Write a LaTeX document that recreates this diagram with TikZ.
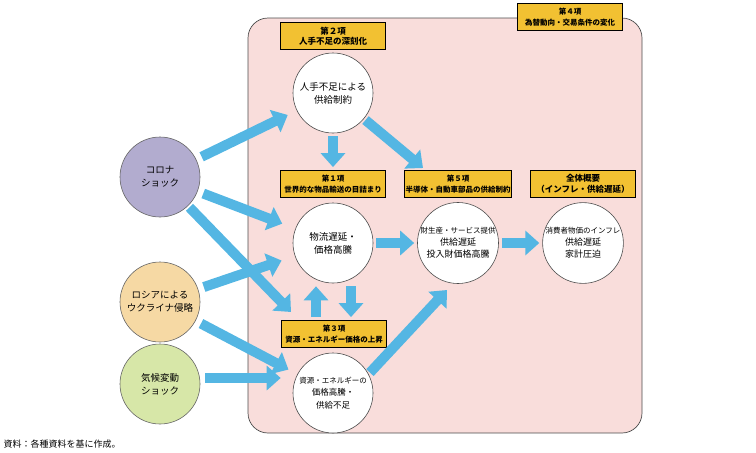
\documentclass[tikz,border=0pt]{standalone}
\usepackage{fontspec}
\setmainfont{Noto Sans CJK JP}
\usetikzlibrary{arrows.meta}

\definecolor{bgpink}{RGB}{249,221,219}
\definecolor{boxyellow}{RGB}{242,193,50}
\definecolor{arrowblue}{RGB}{84,182,227}
\definecolor{covid}{RGB}{178,172,207}
\definecolor{russia}{RGB}{246,217,164}
\definecolor{climate}{RGB}{215,231,168}

\newcommand{\widerow}[1]{{\fontsize{7.5}{12}\selectfont #1}}

\begin{document}
\begin{tikzpicture}[x=1pt,y=-1pt]
\tikzset{circ/.style={circle, draw=black!70, fill=white, line width=0.6pt, minimum size=80pt, inner sep=0pt, align=center, font=\fontsize{9.5}{13}\selectfont}}
\tikzset{cause/.style={circ, draw=black!60}}
\tikzset{label/.style={draw=black, fill=boxyellow, line width=0.8pt, minimum width=105pt, minimum height=27pt, inner sep=1pt, align=center, font=\bfseries\fontsize{8.5}{10.5}\selectfont}}
\tikzset{longlabel/.style={label, font=\bfseries\fontsize{7.5}{10.5}\selectfont}}
\tikzset{flow/.style={draw=arrowblue, line width=10pt, -{Triangle[length=14pt,width=24pt]}}}
\useasboundingbox (0,0) rectangle (756,453);
\draw[fill=bgpink, draw=black!70, line width=0.7pt, rounded corners=20pt] (248,18) rectangle (642,433);

\node[label] (sec2) at (333,36) {第２項\\人手不足の深刻化};
\node[longlabel] (sec4) at (570,17) {第４項\\為替動向・交易条件の変化};
\node[longlabel] (sec1) at (333,184) {第１項\\世界的な物品輸送の目詰まり};
\node[longlabel] (sec5) at (458,184) {第５項\\半導体・自動車部品の供給制約};
\node[label] (total) at (583,184) {全体概要\\（インフレ・供給遅延）};
\node[longlabel] (sec3) at (334,334) {第３項\\資源・エネルギー価格の上昇};

\node[circ] (hitode) at (333,93) {人手不足による\\供給制約};
\node[circ] (butsuryu) at (333,243) {物流遅延・\\価格高騰};
\node[circ, font=\fontsize{9}{12}\selectfont] (zaisei) at (458,243) {\widerow{財生産・サービス提供}\\供給遅延\\投入財価格高騰};
\node[circ, font=\fontsize{9}{12}\selectfont] (shohi) at (583,243) {\widerow{消費者物価のインフレ}\\供給遅延\\家計圧迫};
\node[circ, font=\fontsize{8.5}{12.5}\selectfont] (shigen) at (333,393) {\widerow{資源・エネルギーの}\\価格高騰・\\供給不足};

\node[cause, fill=covid] (corona) at (160,177) {コロナ\\ショック};
\node[cause, fill=russia] (russia) at (160,302) {ロシアによる\\ウクライナ侵略};
\node[cause, fill=climate] (climate) at (160,384) {気候変動\\ショック};

\coordinate (hit3) at (291,312);
\coordinate (hit5) at (423,168);
\coordinate (hitz) at (447,290);

% causes
\draw[flow, shorten <=6pt, shorten >=10pt] (corona) -- (hitode);
\draw[flow, shorten <=6pt, shorten >=14pt] (corona) -- (butsuryu);
\draw[flow, shorten <=2pt] (corona) -- (hit3);
\draw[flow, shorten <=6pt, shorten >=14pt] (russia) -- (butsuryu);
\draw[flow, shorten <=6pt, shorten >=10pt] (russia) -- (shigen);
\draw[flow, shorten <=5pt, shorten >=12pt] ([yshift=6pt]climate.east) -- ([yshift=6pt]climate.east -| shigen.west);

% between sections
\draw[flow, shorten <=3pt, shorten >=3pt] (hitode) -- (sec1);
\draw[flow, shorten <=2pt] (hitode) -- (hit5);
\draw[flow, shorten <=3pt, shorten >=3pt] (butsuryu) -- (zaisei);
\draw[flow, shorten <=3pt, shorten >=3pt] (zaisei) -- (shohi);
\draw[flow, shorten <=3pt, shorten >=3pt] ([xshift=-18pt]sec3.north) -- ([xshift=-18pt]sec3.north |- butsuryu.south);
\draw[flow, shorten <=3pt, shorten >=3pt] ([xshift=17pt]sec3.north |- butsuryu.south) -- ([xshift=17pt]sec3.north);
\draw[flow, shorten <=2pt] (shigen.28) -- (hitz);

\node[anchor=west, font=\fontsize{9}{11}\selectfont] (source) at (0,444) {資料：各種資料を基に作成。};
\end{tikzpicture}
\end{document}
